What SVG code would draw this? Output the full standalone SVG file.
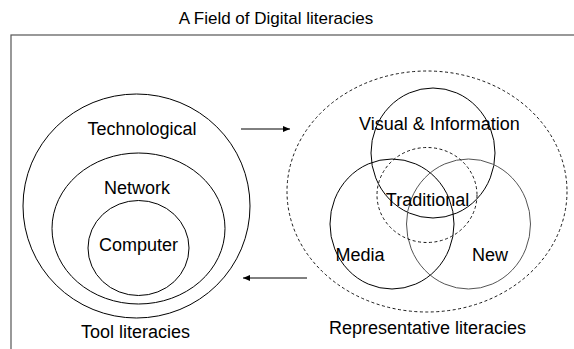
<svg xmlns="http://www.w3.org/2000/svg" width="574" height="349" viewBox="0 0 574 349">
<defs>
<style>
text{font-family:"Liberation Sans",Arial,sans-serif;font-size:18px;fill:#000;text-anchor:middle}
.t{font-size:17px}
.s{fill:none;stroke:#000;stroke-width:1}
.g{fill:none;stroke:#555;stroke-width:1}
.d{fill:none;stroke:#000;stroke-width:0.9;stroke-dasharray:3,2.5}
.c{stroke:#000;stroke-width:1;fill:none}
</style>
<marker id="ah" markerWidth="8" markerHeight="6" refX="7" refY="3" orient="auto" markerUnits="userSpaceOnUse">
<path d="M0,0 L7,3 L0,6 Z" fill="#000"/>
</marker>
</defs>
<rect width="574" height="349" fill="#fff"/>
<text class="t" x="276" y="24">A Field of Digital literacies</text>
<rect x="11" y="35" width="620" height="400" fill="none" stroke="#555" stroke-width="1.2"/>
<g id="technological"><ellipse class="s" cx="136.5" cy="206" rx="113.5" ry="112"/><text x="142" y="134.5">Technological</text></g>
<g id="network"><ellipse class="s" cx="138.5" cy="228.5" rx="86.5" ry="75.5"/><text x="137" y="193.5">Network</text></g>
<g id="computer"><ellipse class="s" cx="138.5" cy="248" rx="50.5" ry="47.5"/><text x="138.5" y="250.5">Computer</text></g>
<g id="tool"><text x="135.5" y="337.5">Tool literacies</text></g>
<g id="representative"><ellipse class="d" cx="427" cy="191.5" rx="140" ry="120.5"/><text x="427.5" y="333.5">Representative literacies</text></g>
<g id="visual"><ellipse class="s" cx="433" cy="153" rx="62" ry="65"/><text x="439.5" y="129.5">Visual &amp; Information</text></g>
<g id="media"><ellipse class="s" cx="392" cy="224" rx="62" ry="65"/><text x="360" y="260.5">Media</text></g>
<g id="new"><ellipse class="g" cx="468.5" cy="224" rx="62" ry="65"/><text x="490" y="260.5">New</text></g>
<g id="traditional"><ellipse class="d" cx="427" cy="195" rx="50" ry="47.5"/><text x="427.5" y="205.5">Traditional</text></g>
<g id="connectors">
<line class="c" x1="241" y1="129" x2="290" y2="129" marker-end="url(#ah)"/>
<line class="c" x1="307" y1="278" x2="243" y2="278" marker-end="url(#ah)"/>
</g>
</svg>
